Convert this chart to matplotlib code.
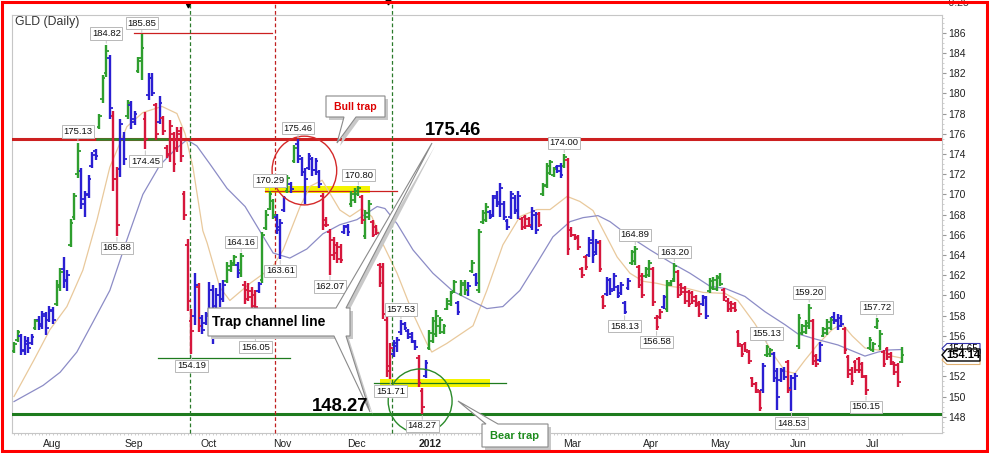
import matplotlib
matplotlib.use("Agg")
import matplotlib.pyplot as plt
from matplotlib.patches import Ellipse, Polygon, Rectangle
import numpy as np

plt.rcParams['font.family'] = ['Liberation Sans', 'DejaVu Sans']

# ---- daily OHLC bars of GLD, Jul 2011 .. Jul 2012 ----
highs = [155.4, 156.6, 156.2, 156.0, 155.9, 156.2, 157.7, 158.0, 158.5, 158.4,
         159.0, 158.9, 161.5, 162.7, 163.8, 162.5, 167.6, 170.1, 175.13, 172.6,
         170.3, 171.9, 174.2, 174.5, 178.0, 181.8, 184.82, 183.8, 178.3, 172.7,
         177.5, 176.2, 179.3, 179.2, 178.3, 183.6, 185.85, 178.2, 182.0, 182.0,
         179.0, 179.7, 177.8, 174.9, 177.4, 176.2, 176.7, 176.7, 170.3, 165.6,
         158.7, 162.2, 161.2, 158.1, 158.4, 161.3, 161.0, 160.7, 161.2, 161.5,
         163.3, 163.5, 164.0, 163.3, 164.16, 161.4, 161.2, 160.8, 160.5, 161.3,
         166.3, 168.45, 170.29, 169.5, 168.1, 167.6, 169.8, 171.9, 171.2, 174.9,
         175.46, 173.7, 172.6, 174.06, 173.7, 173.6, 172.4, 170.1, 167.8, 166.6,
         165.8, 165.3, 165.1, 166.96, 167.1, 170.3, 170.6, 170.80, 169.9, 168.45,
         169.4, 167.5, 166.96, 163.2, 163.2, 157.9, 155.25, 155.6, 155.9, 157.53,
         157.4, 156.7, 156.4, 155.6, 154.1, 150.8, 153.6, 156.6, 157.9, 158.55,
         157.9, 157.2, 159.7, 160.4, 161.5, 159.5, 161.5, 161.5, 161.3, 163.5,
         162.2, 166.6, 168.45, 169.1, 168.5, 169.9, 170.3, 171.1, 169.3, 167.6,
         170.3, 169.9, 170.3, 167.8, 168.0, 167.8, 168.8, 168.3, 168.3, 171.1,
         173.1, 173.4, 172.7, 172.9, 173.1, 174.0, 173.6, 166.8, 166.1, 166.0,
         162.8, 164.0, 165.8, 166.5, 165.6, 165.5, 160.0, 161.8, 161.7, 162.2,
         161.0, 161.3, 159.5, 161.7, 164.5, 164.89, 163.0, 162.2, 162.8, 163.5,
         162.8, 158.05, 158.7, 160.0, 161.5, 161.5, 163.20, 162.5, 161.2, 160.9,
         160.5, 160.4, 160.0, 159.5, 160.0, 159.9, 161.7, 161.8, 162.0, 162.2,
         160.7, 159.7, 159.5, 159.4, 156.6, 155.2, 155.4, 154.6, 151.95, 151.4,
         150.6, 153.3, 155.13, 154.8, 154.4, 152.8, 152.8, 152.9, 153.6, 152.1,
         152.3, 158.2, 157.2, 157.55, 159.20, 157.7, 154.25, 155.4, 156.9, 157.7,
         157.9, 158.38, 158.2, 158.05, 156.9, 154.1, 152.9, 153.6, 153.9, 153.4,
         152.1, 155.9, 155.4, 157.72, 156.6, 154.6, 154.9, 154.4, 153.4, 153.3,
         154.9]
lows = [154.3, 155.4, 154.1, 154.1, 154.3, 155.1, 156.6, 156.6, 156.7, 156.1,
        157.4, 157.2, 159.0, 160.4, 160.7, 160.4, 164.8, 167.5, 171.6, 168.6,
        167.8, 169.6, 172.6, 173.4, 176.5, 179.0, 181.6, 177.5, 170.3, 165.88,
        171.7, 172.9, 177.5, 176.5, 176.9, 182.0, 181.3, 174.45, 179.3, 179.7,
        175.4, 177.0, 175.9, 173.6, 173.2, 172.2, 174.2, 173.2, 167.5, 158.5,
        154.19, 157.1, 156.4, 156.2, 157.1, 157.9, 155.2, 158.7, 158.9, 159.4,
        161.2, 162.3, 162.9, 161.7, 161.85, 159.2, 159.5, 158.6, 156.05, 160.2,
        161.2, 166.5, 168.45, 167.6, 166.1, 163.61, 168.3, 170.1, 170.1, 173.1,
        173.1, 171.8, 169.0, 172.4, 171.8, 171.9, 170.6, 166.5, 166.8, 162.07,
        163.5, 163.2, 163.2, 166.1, 165.9, 168.8, 169.1, 169.8, 167.1, 165.6,
        167.5, 165.8, 166.0, 160.86, 157.7, 151.95, 151.71, 153.9, 154.4, 156.1,
        156.6, 155.7, 155.25, 154.6, 150.95, 148.27, 151.8, 154.6, 155.25, 155.9,
        156.2, 156.2, 158.55, 159.0, 160.2, 158.05, 159.9, 160.0, 159.9, 162.2,
        160.9, 160.2, 167.1, 167.3, 167.6, 167.8, 168.8, 167.8, 167.5, 166.5,
        167.6, 168.1, 167.6, 166.5, 166.6, 166.8, 166.5, 166.1, 166.8, 169.8,
        170.6, 171.9, 171.7, 172.1, 171.6, 172.6, 164.0, 165.8, 165.5, 164.5,
        161.7, 162.5, 163.8, 163.2, 164.0, 162.3, 158.7, 159.9, 160.0, 160.4,
        159.7, 160.0, 158.13, 160.5, 163.0, 163.0, 160.7, 159.7, 161.7, 161.85,
        159.0, 156.58, 157.7, 158.7, 158.4, 160.9, 161.35, 159.7, 160.0, 159.2,
        158.9, 159.2, 158.9, 157.9, 159.0, 157.7, 160.2, 160.5, 160.4, 160.9,
        159.5, 158.4, 158.4, 158.4, 154.9, 153.9, 154.4, 153.26, 150.95, 150.3,
        148.6, 150.3, 153.9, 153.9, 151.45, 148.65, 151.4, 151.6, 150.3, 148.53,
        150.6, 154.75, 156.1, 156.2, 156.7, 153.1, 152.9, 153.4, 155.9, 156.1,
        156.6, 157.2, 156.6, 156.9, 154.25, 151.8, 151.1, 152.3, 152.3, 151.8,
        150.15, 154.6, 154.4, 156.7, 154.6, 152.9, 153.6, 153.1, 152.1, 150.95,
        153.3]
opens = [154.5, 155.6, 156.0, 154.6, 155.2, 155.3, 156.8, 157.6, 157.2, 158.0,
         157.6, 158.5, 159.2, 160.8, 162.6, 161.4, 165.0, 167.8, 172.0, 172.3,
         169.0, 170.0, 172.8, 174.3, 176.7, 179.4, 182.0, 183.5, 177.8, 171.5,
         172.5, 175.5, 177.8, 178.8, 177.5, 182.2, 183.5, 177.5, 179.8, 181.5,
         178.8, 177.2, 177.6, 174.6, 174.0, 176.0, 174.6, 176.3, 170.0, 165.0,
         157.5, 158.0, 160.8, 157.8, 157.3, 158.2, 160.5, 159.0, 160.0, 159.6,
         161.4, 162.5, 163.0, 163.0, 162.5, 161.0, 160.5, 160.4, 160.0, 160.4,
         161.5, 166.7, 168.6, 169.3, 167.8, 166.8, 168.5, 170.3, 171.0, 173.3,
         175.0, 173.5, 172.2, 172.6, 173.5, 172.4, 172.2, 169.8, 167.5, 166.3,
         165.5, 165.0, 164.8, 166.3, 166.9, 169.0, 169.4, 170.0, 169.7, 165.9,
         167.8, 167.3, 166.8, 163.0, 162.8, 157.6, 153.0, 154.2, 155.0, 156.4,
         157.2, 156.5, 156.2, 155.4, 153.8, 150.5, 152.0, 154.8, 155.5, 156.2,
         157.0, 156.4, 158.7, 159.2, 160.4, 159.3, 160.1, 161.0, 160.5, 162.4,
         162.0, 160.5, 167.3, 167.5, 168.3, 168.0, 169.8, 169.2, 169.0, 167.4,
         167.8, 169.6, 168.5, 167.6, 167.8, 167.6, 166.8, 168.0, 168.1, 170.0,
         170.8, 172.1, 171.9, 172.7, 172.8, 172.8, 173.4, 166.5, 166.0, 165.8,
         162.6, 163.8, 164.0, 165.2, 164.3, 165.2, 159.8, 160.1, 161.5, 160.6,
         160.8, 160.2, 159.3, 160.7, 163.2, 163.4, 162.8, 161.9, 161.9, 162.0,
         162.6, 157.8, 157.9, 158.9, 158.7, 161.0, 161.6, 162.3, 161.0, 160.7,
         160.3, 160.2, 159.8, 159.3, 159.2, 159.7, 160.4, 160.7, 160.6, 161.7,
         160.5, 159.5, 159.3, 159.2, 156.4, 155.0, 155.2, 154.4, 151.8, 151.2,
         150.4, 150.6, 154.1, 154.2, 154.2, 152.5, 151.6, 152.6, 153.4, 150.8,
         151.8, 155.0, 156.3, 156.4, 157.0, 157.5, 154.0, 153.6, 156.0, 156.3,
         156.8, 157.9, 157.6, 157.8, 156.7, 153.9, 152.6, 153.4, 153.7, 153.2,
         151.9, 154.8, 154.6, 156.9, 155.0, 154.4, 154.7, 154.2, 153.2, 153.1,
         153.4]
closes = [155.2, 156.4, 154.5, 155.5, 154.8, 155.9, 157.5, 157.0, 158.2, 156.8,
          158.6, 157.6, 161.0, 162.3, 161.5, 162.0, 167.2, 169.8, 174.3, 169.5,
          169.9, 171.5, 173.9, 173.8, 177.8, 181.5, 184.2, 178.5, 171.5, 167.0,
          177.0, 173.5, 179.0, 177.2, 178.0, 183.2, 184.5, 175.5, 181.5, 180.0,
          176.0, 179.0, 176.3, 173.9, 176.8, 173.0, 176.0, 173.8, 168.0, 159.5,
          156.5, 161.0, 157.0, 156.6, 158.0, 160.5, 156.0, 160.0, 159.6, 161.0,
          162.9, 163.2, 163.8, 162.2, 163.9, 159.6, 159.8, 159.0, 158.9, 161.1,
          166.0, 168.0, 170.0, 168.0, 166.5, 167.2, 169.6, 171.6, 170.5, 174.6,
          173.8, 172.2, 171.5, 173.8, 172.4, 173.3, 171.0, 167.0, 167.0, 164.0,
          164.2, 163.6, 163.5, 166.8, 166.3, 170.0, 170.3, 170.6, 167.5, 168.2,
          169.0, 166.0, 166.2, 161.2, 158.2, 152.5, 154.8, 155.3, 155.6, 157.2,
          156.8, 155.9, 155.5, 154.9, 151.3, 149.0, 153.3, 156.3, 157.5, 158.0,
          157.6, 157.0, 159.5, 160.2, 161.3, 158.4, 161.2, 160.5, 160.9, 163.2,
          161.2, 166.3, 168.2, 168.8, 167.8, 169.6, 169.0, 170.6, 167.8, 166.8,
          170.0, 168.4, 169.8, 166.8, 166.9, 167.0, 168.4, 166.5, 167.0, 170.9,
          172.8, 173.2, 172.5, 172.3, 171.9, 173.7, 164.6, 166.0, 165.7, 164.8,
          162.0, 162.8, 165.5, 164.0, 165.3, 162.6, 159.0, 161.5, 160.4, 161.9,
          159.9, 161.0, 158.4, 161.4, 164.3, 164.6, 161.0, 160.0, 162.6, 163.2,
          159.4, 156.9, 158.4, 159.8, 161.2, 161.4, 162.9, 160.0, 160.3, 159.5,
          159.2, 159.5, 159.1, 158.2, 159.8, 158.0, 161.4, 161.5, 161.8, 161.1,
          159.8, 158.7, 158.8, 158.6, 155.2, 154.2, 154.6, 153.5, 151.2, 150.6,
          148.9, 153.0, 154.9, 154.6, 151.8, 150.0, 152.5, 151.9, 150.6, 151.8,
          152.0, 157.8, 157.0, 157.3, 158.8, 153.5, 153.2, 155.1, 156.7, 157.4,
          157.6, 157.5, 157.0, 157.2, 154.6, 152.2, 151.5, 152.6, 152.6, 152.0,
          150.6, 155.6, 155.2, 157.5, 156.2, 153.2, 153.9, 153.4, 152.4, 151.4,
          154.14]
# bar colour: g = rising, b = neutral, r = falling
trend = ("ggbbbbgbbb" "bbggbbgggb" "bbbbgggbrr" "bbgbbggrbb" "rbrrrrrrrr"
         "rbrbbbbbbb" "gggbgrrrrb" "ggggbbbgbg" "bbbbbbbrrr" "rrrbbgggrg"
         "grrrrrrbbb" "bbbbrrbggg" "gggggbggbg" "bgggbbbbbb" "bbbrrrbbrg"
         "gggbbgrrrr" "rrbbbrrbbb" "bbbbggrrgg" "rrrbgggrrr" "rrrrbbgggg"
         "rrrrrrrrrr" "rbggbbbbrb" "bggggrrbgg" "gbbbrrrrrr" "rggggrrrrrg")

# moving averages (bar index, value)
fast_x = [0, 5.6, 10.1, 14.9, 19.4, 23.4, 27.0, 31.8, 36.3, 41.7, 45.9, 48.2, 50.4,
          53.2, 54.4, 58.0, 60.8, 66.5, 72.8, 75.8, 80.6, 83.4, 86.8, 89.0, 91.8,
          94.6, 98.0, 100.8, 103.9, 107.9, 112.4, 116.3, 117.7, 121.9, 129.3, 133.2,
          137.7, 142.5, 147.3, 151.0, 155.8, 159.4, 163.1, 165.9, 169.9, 173.5,
          177.2, 181.1, 184.8, 189.6, 194.1, 200.3, 203.9, 208.7, 211.5, 214.4,
          217.2, 220.0, 222.8, 226.5, 230.4, 233.2, 236.1, 239.7, 243.4, 247.3, 250.1]
fast_y = [150.0, 153.6, 156.6, 158.9, 162.5, 167.5, 172.7, 176.7, 178.1, 178.7, 178.0,
          176.0, 172.7, 166.4, 165.2, 160.8, 159.5, 161.2, 162.8, 164.5, 168.8, 170.8,
          171.4, 170.1, 168.45, 167.8, 168.6, 167.8, 165.1, 162.2, 158.2, 155.25,
          154.4, 155.25, 157.0, 160.5, 165.0, 167.8, 168.5, 168.5, 169.8, 169.3,
          168.4, 166.5, 163.8, 162.2, 161.4, 161.2, 160.9, 160.7, 160.3, 160.2,
          159.5, 157.2, 155.6, 153.9, 152.5, 152.3, 153.6, 155.2, 156.6, 157.2,
          156.0, 154.8, 154.6, 154.0, 153.8]
slow_x = [0, 8.2, 13.0, 17.7, 22.3, 27.0, 31.8, 36.3, 41.1, 45.9, 48.7, 51.5, 55.2,
          60.0, 65.1, 73.0, 77.7, 82.5, 87.0, 91.8, 96.6, 102.3, 104.5, 107.9, 112.4,
          118.0, 123.7, 129.3, 133.2, 137.7, 142.5, 147.3, 151.8, 156.6, 160.3,
          164.5, 167.9, 173.5, 179.2, 184.8, 190.4, 196.1, 200.3, 205.9, 211.5,
          217.2, 220.8, 225.6, 232.1, 239.7, 243.4, 246.2, 250.1]
slow_y = [149.5, 151.1, 152.4, 154.4, 157.4, 160.5, 165.5, 170.0, 172.9, 174.6, 175.4,
          174.8, 173.0, 170.6, 168.8, 164.2, 163.7, 164.6, 166.1, 167.0, 167.5, 168.8,
          168.6, 167.1, 164.5, 162.2, 160.4, 159.4, 158.7, 158.9, 160.5, 163.2,
          165.8, 167.3, 167.7, 167.9, 167.3, 165.8, 164.5, 163.3, 162.2, 160.9,
          160.7, 159.9, 158.4, 157.1, 156.2, 155.7, 155.1, 154.0, 154.4, 154.6,
          154.65]

# bars that carry a value tag: (bar index, 'h' = high / 'l' = low)
tag_bars = [18, 26, 36, 37, 29, 50, 64, 68, 75, 72, 80, 97, 89, 109, 106, 115,
            155, 175, 186, 172, 181, 212, 224, 219, 243, 240]
tag_side = ['h', 'h', 'h', 'l', 'l', 'l', 'h', 'l', 'l', 'h', 'h', 'h', 'l', 'h', 'l', 'l',
            'h', 'h', 'h', 'l', 'l', 'h', 'h', 'l', 'h', 'l']

month_pos = [10.7, 33.8, 54.9, 75.5, 96.6, 117.2, 137.5, 157.2, 179.4, 198.9, 220.8, 241.7]
month_lbl = ['Aug', 'Sep', 'Oct', 'Nov', 'Dec', '2012', 'Feb', 'Mar', 'Apr', 'May', 'Jun', 'Jul']

resistance = 175.46
support = 148.27

W, H = 989, 453
fig = plt.figure(figsize=(W / 100, H / 100), dpi=100)
ax = fig.add_axes([12 / W, 20 / H, 930 / W, 418 / H])
ax.set_xlim(-0.56, 261.4)
ax.set_ylim(146.39, 187.75)


def fpx(x, y):
    # pixel position (from top-left) -> figure fraction
    return (x / W, 1 - y / H)


col_map = {'g': '#2e9e2e', 'b': '#2a1ed2', 'r': '#d6163c'}
idx = np.arange(len(closes))
cols = [col_map[c] for c in trend]

# highlight bands and level lines
ax.add_patch(Rectangle((70.7, 170.17), 29.6, 0.69, fc='#f4f400', ec='none', zorder=1))
ax.add_patch(Rectangle((103.1, 150.9), 31.0, 0.8, fc='#f4f400', ec='none', zorder=1))
ax.plot([70.7, 107.9], [170.37, 170.37], color='#cc2020', lw=0.9, zorder=2)
ax.plot([101.4, 138.6], [151.3, 151.3], color='#1e7b1e', lw=0.9, zorder=2)
ax.plot([33.8, 72.7], [185.94, 185.94], color='#cc2020', lw=0.9, zorder=2)
ax.plot([40.6, 77.7], [153.84, 153.84], color='#1e7b1e', lw=0.9, zorder=2)

ax.plot(fast_x, fast_y, color='#e9c99c', lw=0.9, zorder=2)
ax.plot(slow_x, slow_y, color='#8c8cc6', lw=0.9, zorder=2)

ax.axhline(resistance, color='#cc2020', lw=2.2, zorder=3)
ax.plot([23.3, 43.0], [resistance, resistance], color='#2a8a2a', lw=1.8, zorder=3)
ax.axhline(support, color='#1e7b1e', lw=2.2, zorder=3)

# vertical dashed markers
for xv, c in [(49.6, '#2a7a2a'), (73.5, '#c02020'), (106.5, '#2a7a2a')]:
    ax.plot([xv, xv], [146.39, 188.9], color=c, lw=0.9, ls=(0, (3, 2)),
            clip_on=False, zorder=3)
ax.plot([49.1, 105.4], [188.74, 189.0], 'v', color='black', ms=3.5, clip_on=False)

# OHLC bars
ax.vlines(idx, lows, highs, colors=cols, lw=1.7, zorder=4)
ax.hlines(opens, idx - 0.75, idx, colors=cols, lw=1.3, zorder=4)
ax.hlines(closes, idx, idx + 0.75, colors=cols, lw=1.3, zorder=4)

# trap circles
ax.add_patch(Ellipse((81.8, 172.36), 18.2, 6.8, fill=False, ec='#d42a2a', lw=1.0, zorder=5))
ax.add_patch(Ellipse((114.4, 149.55), 18.0, 6.35, fill=False, ec='#2a8a2a', lw=1.0, zorder=5))

# value tags
for i, s in zip(tag_bars, tag_side):
    v = highs[i] if s == 'h' else lows[i]
    dy = 8 if s == 'h' else -8.5
    ax.annotate(f"{v:.2f}", xy=(i, v), xytext=(0, dy), textcoords='offset points',
                ha='center', va='center', fontsize=6.8, color='#111111', zorder=6,
                bbox=dict(boxstyle='square,pad=0.18', fc='white', ec='#b8b8b8', lw=0.7),
                arrowprops=dict(arrowstyle='-', color='#c4c4c4', lw=0.7,
                                shrinkA=0, shrinkB=1))

# axes styling
for sp in ax.spines.values():
    sp.set_color('#c6c6c6')
    sp.set_linewidth(0.8)
ax.yaxis.tick_right()
ax.set_yticks(np.arange(148, 187, 2))
ax.set_yticks(np.arange(146.5, 187.6, 0.5), minor=True)
ax.tick_params(axis='y', which='major', length=3, color='#999999', pad=1.5,
               labelsize=7.5, labelcolor='#222222')
ax.tick_params(axis='y', which='minor', length=1.5, color='#bbbbbb', width=0.5)
ax.set_xticks(month_pos)
ax.set_xticklabels(month_lbl)
ax.set_xticks(idx, minor=True)
ax.tick_params(axis='x', which='major', length=0, pad=4, labelsize=7.5, labelcolor='#222222')
ax.tick_params(axis='x', which='minor', length=1.5, color='#bbbbbb', width=0.5)
ax.get_xticklabels()[5].set_fontweight('bold')

fig.text(*fpx(15, 22.5), "GLD (Daily)", fontsize=8.8, color='#333333', va='center')
fig.text(*fpx(946, 2.5), "-0.25", fontsize=7.5, color='#333333', va='center')


def callout(pts, face='white', edge='#8a8a8a'):
    shadow = [fpx(x + 3, y + 3) for x, y in pts]
    fig.add_artist(Polygon(shadow, closed=True, fc='#c8c8c8', ec='none',
                           transform=fig.transFigure, zorder=7))
    fig.add_artist(Polygon([fpx(x, y) for x, y in pts], closed=True, fc=face, ec=edge,
                           lw=0.8, transform=fig.transFigure, zorder=8))


callout([(208, 308), (336, 308), (432, 143), (346, 308), (350, 308), (350, 336),
         (346, 336), (370, 412), (334, 336), (208, 336)])
fig.text(*fpx(212, 322), "Trap channel line", fontsize=10, fontweight='bold',
         va='center', ha='left', zorder=9)

callout([(326, 96), (385, 96), (385, 117), (356, 117), (337, 143), (344, 117), (326, 117)])
fig.text(*fpx(355.5, 106.5), "Bull trap", fontsize=7.5, fontweight='bold', color='#dd0000',
         va='center', ha='center', zorder=9)

callout([(482, 424), (486, 424), (458, 401), (498, 424), (548, 424), (548, 447), (482, 447)])
fig.text(*fpx(515, 436), "Bear trap", fontsize=8, fontweight='bold', color='#1e8c1e',
         va='center', ha='center', zorder=9)

fig.text(*fpx(425, 131), f"{resistance:.2f}", fontsize=13.3, fontweight='bold',
         va='center', ha='left', zorder=9)
fig.text(*fpx(312, 406.5), f"{support:.2f}", fontsize=13.3, fontweight='bold',
         va='center', ha='left', zorder=9)


def price_tag(yc, half, edge, text, bold=False, lw=0.8):
    pts = [(942, yc), (947, yc - half), (980, yc - half), (980, yc + half), (947, yc + half)]
    fig.add_artist(Polygon([fpx(x, y) for x, y in pts], closed=True, fc='white', ec=edge,
                           lw=lw, transform=fig.transFigure, zorder=8))
    if text:
        fig.text(*fpx(963.5, yc), text, fontsize=8 if bold else 7, ha='center', va='center',
                 fontweight='bold' if bold else 'normal', zorder=9)


price_tag(348.5, 5, '#3333aa', f"{slow_y[-1]:.2f}")
price_tag(360, 4.5, '#e0b070', "")
price_tag(355, 6, 'black', f"{closes[-1]:.2f}", bold=True, lw=1.0)

# red frame around the whole picture
fig.add_artist(Rectangle(fpx(1.5, 450.5), 985 / W, 449 / H, fill=False, ec='#ff0000',
                         lw=2.2, transform=fig.transFigure, zorder=10))

fig.savefig("out.png", dpi=100)
